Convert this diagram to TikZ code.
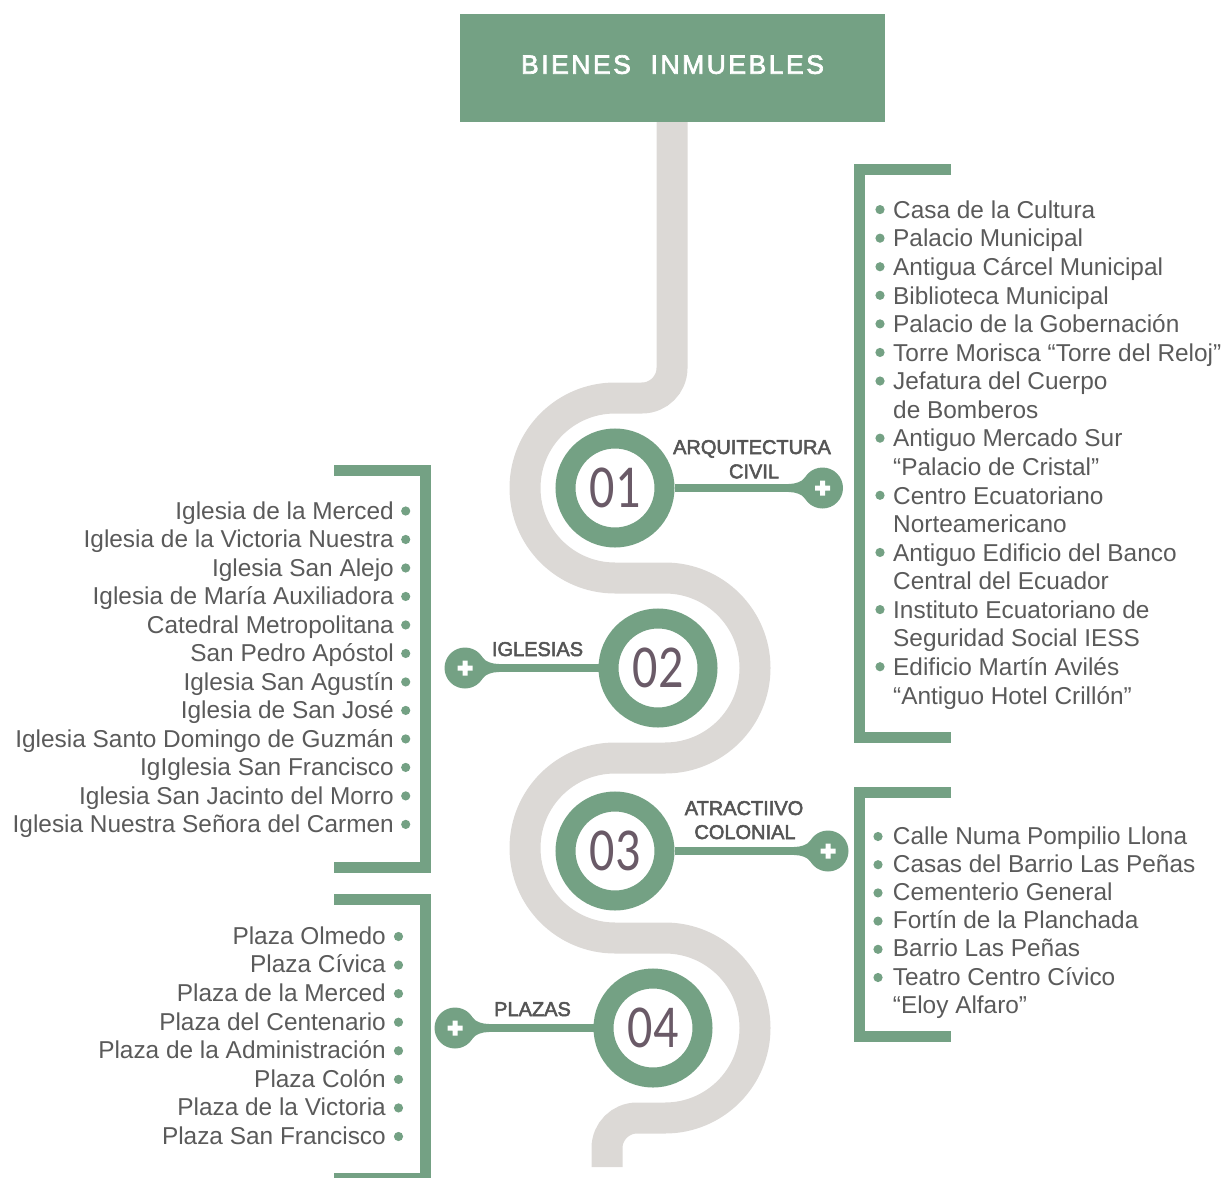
\documentclass[tikz,border=0pt]{standalone}
\usepackage{fontspec}
\setmainfont{Liberation Sans}
\newfontfamily\numfont[FakeStretch=0.82]{Carlito}
\newfontfamily\labfont[BoldFont={Liberation Sans}, BoldFeatures={FakeBold=2.6}]{Liberation Sans}
\newfontfamily\titlefont[LetterSpace=9.5, BoldFont={Liberation Sans}, BoldFeatures={FakeBold=2.6,LetterSpace=9.5}]{Liberation Sans}
\definecolor{gr}{HTML}{74A184}
\definecolor{roadc}{HTML}{DCD9D6}
\definecolor{txt}{HTML}{5A5A5A}
\definecolor{labc}{HTML}{555555}
\definecolor{numc}{HTML}{6A5A67}
\tikzset{
 listR/.style={anchor=base west, inner sep=0pt, text=txt, font=\fontsize{24.4}{28}\selectfont},
 listL/.style={anchor=base east, inner sep=0pt, text=txt, font=\fontsize{24.4}{28}\selectfont},
 labtext/.style={anchor=base, inner sep=0pt, text=labc, font=\labfont\bfseries\fontsize{20}{24}\selectfont},
 ringnode/.style={circle, draw=gr, line width=20pt, fill=white, minimum size=99pt, inner sep=0pt, text=numc, font=\numfont\fontsize{61}{61}\selectfont},
 plusnode/.style={circle, fill=gr, minimum size=41pt, inner sep=0pt},
 bracketline/.style={draw=gr, line width=11pt, line join=miter},
 connline/.style={draw=gr, line width=8pt},
 neck/.style={fill=gr},
 bul/.style={fill=gr},
}
\begin{document}
\begin{tikzpicture}[x=1pt,y=1pt]
\useasboundingbox (0,0) rectangle (1225,-1177);
\clip (0,0) rectangle (1225,-1177);
% road
\draw[roadc, line width=31pt] (672,-110) -- (672,-368)
  arc[start angle=0,end angle=-90,radius=30pt] -- (615,-398)
  arc[start angle=90,end angle=270,radius=90pt] -- (665,-578)
  arc[start angle=90,end angle=-90,radius=90pt] -- (615,-758)
  arc[start angle=90,end angle=270,radius=90pt] -- (665,-938)
  arc[start angle=90,end angle=-90,radius=90pt] -- (637,-1118)
  arc[start angle=90,end angle=180,radius=30pt] -- (607,-1167);
% title
\node[fill=gr, minimum width=425pt, minimum height=108pt, inner sep=0pt, text=white,
  font=\titlefont\bfseries\fontsize{26.5}{30}\selectfont, text depth=7pt] (title) at (672.5,-68) {BIENES\ \ INMUEBLES};
% brackets
\draw[bracketline] (951,-169.5) -- (859.5,-169.5) -- (859.5,-737.5) -- (951,-737.5);
\draw[bracketline] (334,-470.5) -- (425.5,-470.5) -- (425.5,-867.5) -- (334,-867.5);
\draw[bracketline] (951,-792.5) -- (859.5,-792.5) -- (859.5,-1036.5) -- (951,-1036.5);
\draw[bracketline] (334,-899.5) -- (425.5,-899.5) -- (425.5,-1178.5) -- (334,-1178.5);
% plus nodes
\node[plusnode] (p1) at (822.5,-488) {};
\node[plusnode] (p2) at (465,-668) {};
\node[plusnode] (p3) at (828,-851) {};
\node[plusnode] (p4) at (455,-1028) {};
% rings
\node[ringnode] (c1) at (615,-488) {01};
\node[ringnode] (c2) at (658,-668) {02};
\node[ringnode] (c3) at (615,-851) {03};
\node[ringnode] (c4) at (653,-1028) {04};
% connectors
\draw[connline] (c1) -- (p1);
\draw[connline] (c2) -- (p2);
\draw[connline] (c3) -- (p3);
\draw[connline] (c4) -- (p4);
% necks and plus signs
\foreach \p/\s in {p1/1,p3/1,p2/-1,p4/-1}{
  \fill[neck, shift={(\p.center)}, xscale=\s] (-34,4) .. controls (-27,4) and (-20.2,6.3) .. (-17.6,10.6)
     -- (0,0) -- (-17.6,-10.6) .. controls (-20.2,-6.3) and (-27,-4) .. (-34,-4) -- cycle;
  \fill[white, shift={(\p.center)}] (-7.5,-2.5) rectangle (7.5,2.5) (-2.5,-7.5) rectangle (2.5,7.5);
}
% labels
\node[labtext] (l1a) at (752,-454) {ARQUITECTURA};
\node[labtext] (l1b) at (754,-478.3) {CIVIL};
\node[labtext] (l2) at (537.5,-656) {IGLESIAS};
\node[labtext] (l3a) at (744,-815) {ATRACTIIVO};
\node[labtext] (l3b) at (745,-839) {COLONIAL};
\node[labtext] (l4) at (532.5,-1016) {PLAZAS};
% list 1
\foreach \b/\t [count=\i from 0] in {1/Casa de la Cultura, 1/Palacio Municipal, 1/Antigua Cárcel Municipal,
  1/Biblioteca Municipal, 1/Palacio de la Gobernación, 1/Torre Morisca “Torre del Reloj”,
  1/Jefatura del Cuerpo, 0/de Bomberos, 1/Antiguo Mercado Sur, 0/“Palacio de Cristal”,
  1/Centro Ecuatoriano, 0/Norteamericano, 1/Antiguo Edificio del Banco, 0/Central del Ecuador,
  1/Instituto Ecuatoriano de, 0/Seguridad Social IESS, 1/Edificio Martín Avilés, 0/“Antiguo Hotel Crillón”}{
  \node[listR] (a\i) at (893,-218.4-28.57*\i) {\t};
  \ifnum\b=1 \fill[bul] (880,-209.6-28.57*\i) circle[radius=4.6pt];\fi
}
% list 2
\foreach \t [count=\i from 0] in {Iglesia de la Merced, Iglesia de la Victoria Nuestra, Iglesia San Alejo,
  Iglesia de María Auxiliadora, Catedral Metropolitana, San Pedro Apóstol, Iglesia San Agustín,
  Iglesia de San José, Iglesia Santo Domingo de Guzmán, IgIglesia San Francisco,
  Iglesia San Jacinto del Morro, Iglesia Nuestra Señora del Carmen}{
  \node[listL] (b\i) at (394,-519.3-28.49*\i) {\t};
  \fill[bul] (405.7,-511-28.49*\i) circle[radius=4.6pt];
}
% list 3
\foreach \b/\t [count=\i from 0] in {1/Calle Numa Pompilio Llona, 1/Casas del Barrio Las Peñas,
  1/Cementerio General, 1/Fortín de la Planchada, 1/Barrio Las Peñas, 1/Teatro Centro Cívico, 0/“Eloy Alfaro”}{
  \node[listR] (d\i) at (892.7,-844-28.2*\i) {\t};
  \ifnum\b=1 \fill[bul] (878,-836.5-28.2*\i) circle[radius=4.6pt];\fi
}
% list 4
\foreach \t [count=\i from 0] in {Plaza Olmedo, Plaza Cívica, Plaza de la Merced, Plaza del Centenario,
  Plaza de la Administración, Plaza Colón, Plaza de la Victoria, Plaza San Francisco}{
  \node[listL] (e\i) at (386,-944.3-28.57*\i) {\t};
  \fill[bul] (398.5,-936.5-28.57*\i) circle[radius=4.6pt];
}
\end{tikzpicture}
\end{document}
